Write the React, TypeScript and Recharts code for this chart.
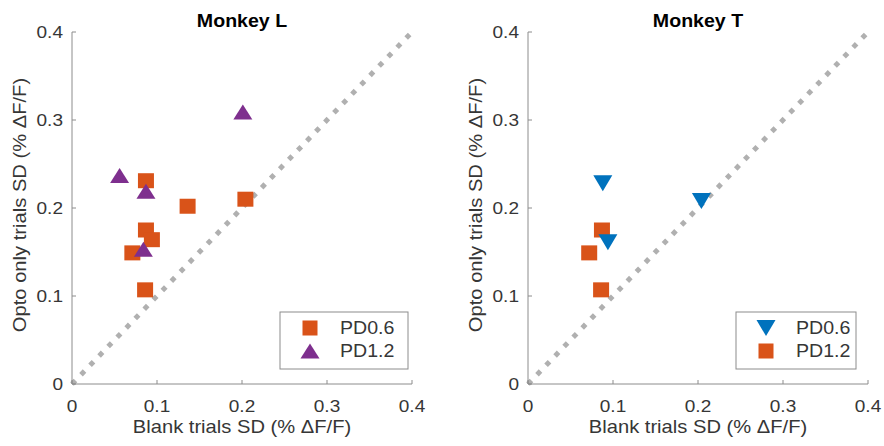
import React from 'react';
import { ScatterChart, Scatter, XAxis, YAxis, ReferenceLine, Customized } from 'recharts';

// ---- data ----
const axisTicks = [0, 0.1, 0.2, 0.3, 0.4];
const diagonal = [0, 0.4];

const titles = ['Monkey L', 'Monkey T'];
const xLabel = 'Blank trials SD (% ΔF/F)';
const yLabel = 'Opto only trials SD (% ΔF/F)';

// Monkey L
const lPD06X = [0.087, 0.136, 0.204, 0.087, 0.094, 0.071, 0.086];
const lPD06Y = [0.231, 0.202, 0.210, 0.175, 0.164, 0.149, 0.107];
const lPD12X = [0.201, 0.056, 0.087, 0.084];
const lPD12Y = [0.309, 0.237, 0.219, 0.153];
const lLegend = ['PD0.6', 'PD1.2'];

// Monkey T
const tPD06X = [0.088, 0.204, 0.094];
const tPD06Y = [0.228, 0.208, 0.161];
const tPD12X = [0.087, 0.072, 0.086];
const tPD12Y = [0.175, 0.149, 0.107];
const tLegend = ['PD0.6', 'PD1.2'];

const zip = (xs: number[], ys: number[]) => xs.map((x, i) => ({ x, y: ys[i] }));

// ---- style ----
const ORANGE = '#D95319';
const PURPLE = '#7E2F8E';
const BLUE = '#0072BD';
const AX = '#8c8c8c';
const TXT = '#363636';
const FONT = "'Liberation Sans', Arial, Helvetica, sans-serif";
const SX = 1.12;

function SText({ x, y, size, anchor = 'middle', weight = 'normal', rot = false, fill = TXT, children }: any) {
  return (
    <text
      transform={`translate(${x},${y})${rot ? ' rotate(-90)' : ''} scale(${SX},1)`}
      fontSize={size}
      fontFamily={FONT}
      fontWeight={weight}
      textAnchor={anchor}
      fill={fill}
    >
      {children}
    </text>
  );
}

const fmt = (v: number) => (v === 0 ? '0' : v.toFixed(1));

const XTick = (props: any) => {
  const { x, y, payload } = props;
  return (
    <g>
      <line x1={x} x2={x} y1={y} y2={y - 4} stroke={AX} strokeWidth={1} />
      <SText x={x} y={y + 28} size={17}>{fmt(payload.value)}</SText>
    </g>
  );
};

const YTick = (props: any) => {
  const { x, y, payload } = props;
  return (
    <g>
      <line x1={x} x2={x + 4} y1={y} y2={y} stroke={AX} strokeWidth={1} />
      <SText x={x - 9} y={y + 6} size={17} anchor="end">{fmt(payload.value)}</SText>
    </g>
  );
};

const Square = (props: any) => {
  const { cx, cy, fill } = props;
  if (cx == null || cy == null) return null;
  return <rect x={cx - 8} y={cy - 7.5} width={16} height={15} fill={fill} />;
};
const TriUp = (props: any) => {
  const { cx, cy, fill } = props;
  if (cx == null || cy == null) return null;
  return <polygon points={`${cx - 9.5},${cy + 7.5} ${cx + 9.5},${cy + 7.5} ${cx},${cy - 7.5}`} fill={fill} />;
};
const TriDown = (props: any) => {
  const { cx, cy, fill } = props;
  if (cx == null || cy == null) return null;
  return <polygon points={`${cx - 9.5},${cy - 8} ${cx + 9.5},${cy - 8} ${cx},${cy + 8}`} fill={fill} />;
};

function LegendBox({ x, y, w, h, items }: any) {
  const rows = [y + 16, y + 39];
  return (
    <g>
      <rect x={x} y={y} width={w} height={h} fill="#fff" stroke={AX} strokeWidth={1} />
      {items.map((it: any, i: number) => {
        const cy = rows[i];
        const cx = x + 30;
        let mark;
        if (it.shape === 'square') mark = <rect x={cx - 7.5} y={cy - 7.5} width={15} height={15} fill={it.color} />;
        else if (it.shape === 'up') mark = <polygon points={`${cx - 9.5},${cy + 7.5} ${cx + 9.5},${cy + 7.5} ${cx},${cy - 7.5}`} fill={it.color} />;
        else mark = <polygon points={`${cx - 9.5},${cy - 8} ${cx + 9.5},${cy - 8} ${cx},${cy + 8}`} fill={it.color} />;
        return (
          <g key={i}>
            {mark}
            <SText x={x + 60} y={cy + 6} size={17.5} anchor="start">{it.label}</SText>
          </g>
        );
      })}
    </g>
  );
}

function Panel({ title, marginLeft, marginRight, series, legend, titleX, yLabelX, legendX, legendW }: any) {
  const W = 442;
  const H = 446;
  return (
    <ScatterChart width={W} height={H} margin={{ top: 32, right: marginRight, bottom: 32, left: marginLeft }}>
      <XAxis
        type="number"
        dataKey="x"
        domain={[0, 0.4]}
        ticks={axisTicks}
        interval={0}
        allowDataOverflow
        height={30}
        axisLine={{ stroke: AX, strokeWidth: 1 }}
        tickLine={false}
        tickSize={0}
        tickMargin={0}
        tick={XTick}
      />
      <YAxis
        type="number"
        dataKey="y"
        domain={[0, 0.4]}
        ticks={axisTicks}
        interval={0}
        allowDataOverflow
        width={50}
        axisLine={{ stroke: AX, strokeWidth: 1 }}
        tickLine={false}
        tickSize={0}
        tickMargin={0}
        tick={YTick}
      />
      <ReferenceLine
        segment={[{ x: diagonal[0], y: diagonal[0] }, { x: diagonal[1], y: diagonal[1] }]}
        stroke="#b0b0b0"
        strokeWidth={5}
        strokeDasharray="5 8"
        ifOverflow="visible"
      />
      {series.map((s: any, i: number) => (
        <Scatter key={i} name={s.name} data={s.data} fill={s.color} shape={s.shape} isAnimationActive={false} />
      ))}
      <Customized
        component={() => (
          <g>
            <SText x={titleX} y={27} size={17.5} weight="bold" fill="#000">{title}</SText>
            <SText x={titleX} y={433} size={18}>{xLabel}</SText>
            <SText x={yLabelX} y={205} size={18} rot>{yLabel}</SText>
            <LegendBox x={legendX} y={312} w={legendW} h={57} items={legend} />
          </g>
        )}
      />
    </ScatterChart>
  );
}

export default function App() {
  return (
    <div style={{ position: 'absolute', left: 0, top: 0, width: 884, height: 446, background: '#fff' }}>
      <div style={{ position: 'absolute', left: 0, top: 0 }}>
        <Panel
          title={titles[0]}
          marginLeft={22}
          marginRight={30}
          titleX={242}
          yLabelX={26}
          legendX={280}
          legendW={128}
          series={[
            { name: lLegend[0], data: zip(lPD06X, lPD06Y), color: ORANGE, shape: Square },
            { name: lLegend[1], data: zip(lPD12X, lPD12Y), color: PURPLE, shape: TriUp },
          ]}
          legend={[
            { label: lLegend[0], color: ORANGE, shape: 'square' },
            { label: lLegend[1], color: PURPLE, shape: 'up' },
          ]}
        />
      </div>
      <div style={{ position: 'absolute', left: 442, top: 0 }}>
        <Panel
          title={titles[1]}
          marginLeft={36}
          marginRight={16}
          titleX={256}
          yLabelX={40}
          legendX={294}
          legendW={120}
          series={[
            { name: tLegend[1], data: zip(tPD12X, tPD12Y), color: ORANGE, shape: Square },
            { name: tLegend[0], data: zip(tPD06X, tPD06Y), color: BLUE, shape: TriDown },
          ]}
          legend={[
            { label: tLegend[0], color: BLUE, shape: 'down' },
            { label: tLegend[1], color: ORANGE, shape: 'square' },
          ]}
        />
      </div>
    </div>
  );
}
